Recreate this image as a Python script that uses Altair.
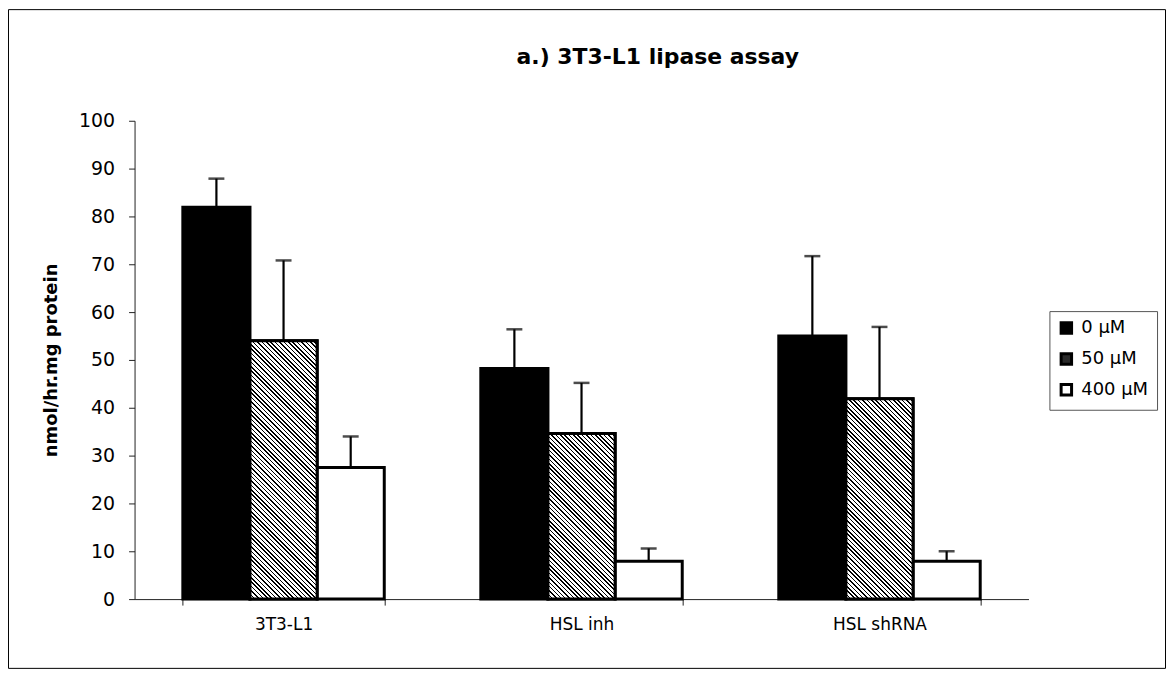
import altair as alt
import pandas as pd

groups = ["3T3-L1", "HSL inh", "HSL shRNA"]
concs = ["0 µM", "50 µM", "400 µM"]
mean_0 = [81.9, 48.2, 55.0]
mean_50 = [54.0, 34.6, 41.9]
mean_400 = [27.5, 7.9, 7.9]
upper_0 = [87.9, 56.4, 71.7]
upper_50 = [70.8, 45.2, 56.9]
upper_400 = [34.0, 10.6, 10.0]
y_ticks = list(range(0, 101, 10))
title_text = "a.) 3T3-L1 lipase assay"
y_title = "nmol/hr.mg protein"

rows = []
for c, means, ups in [(concs[0], mean_0, upper_0), (concs[1], mean_50, upper_50), (concs[2], mean_400, upper_400)]:
    for g, m, u in zip(groups, means, ups):
        rows.append({"group": g, "conc": c, "mean": m, "upper": u})
df = pd.DataFrame(rows)

W_PLOT, H_PLOT = 897, 480
PAD_IN, PAD_OUT = 0.324, 0.162
FONT = "DejaVu Sans"

x_enc = alt.X("group:N", sort=groups, title=None,
              scale=alt.Scale(paddingInner=PAD_IN, paddingOuter=PAD_OUT),
              axis=alt.Axis(labelAngle=0, tickBand="extent", labelFontSize=17, labelFont=FONT,
                            labelColor="black", labelPadding=12, tickSize=6, tickColor="#222",
                            domainColor="#222", domainWidth=1))
xo_enc = alt.XOffset("conc:N", sort=concs, scale=alt.Scale(domain=concs, paddingInner=0, paddingOuter=0))
y_scale = alt.Scale(domain=[0, 100], nice=False)

base = alt.Chart(df)

bars = base.mark_bar(stroke="black", strokeWidth=3, strokeJoin="miter").encode(
    x=x_enc, xOffset=xo_enc,
    y=alt.Y("mean:Q", stack=None, scale=y_scale, title=y_title,
            axis=alt.Axis(values=y_ticks, grid=False, labelFontSize=19, labelFont=FONT, labelColor="black",
                          labelPadding=14, tickSize=6, tickColor="#222", domainColor="#222",
                          titleFont=FONT, titleFontSize=18, titleFontWeight="bold", titleColor="black",
                          titlePadding=18)),
    fill=alt.Fill("conc:N", sort=concs,
                  scale=alt.Scale(domain=concs, range=["black", "#2a2a2a", "white"]),
                  legend=alt.Legend(title=None, orient="none", legendX=918, legendY=191,
                                    symbolType="square", symbolSize=110, symbolStrokeWidth=3,
                                    symbolStrokeColor="black", labelFont=FONT, labelFontSize=18,
                                    labelColor="black", strokeColor="#555", fillColor="white",
                                    padding=8, rowPadding=7, labelOffset=6)),
)

# hatched fill for 50 µM bars (diagonal stripes via a striped linear gradient)
bar_w = W_PLOT / (3 - PAD_IN + 2 * PAD_OUT) * (1 - PAD_IN) / 3
pitch, frac = 3.1, 0.36
hatch_layers = []
for g, m in zip(groups, mean_50):
    h = m * H_PLOT / 100.0
    k = h / bar_w
    vx = (1 + k) / (1 + k * k)
    vy = -k * vx
    n = max(1, int(round((bar_w + h) / 2 ** 0.5 / pitch)))
    stops = []
    for i in range(n):
        a, b, e = i / n, (i + frac) / n, (i + 1) / n
        stops += [{"offset": a, "color": "black"}, {"offset": b, "color": "black"},
                  {"offset": b, "color": "white"}, {"offset": e, "color": "white"}]
    grad = {"gradient": "linear", "x1": 0, "y1": 1, "x2": vx, "y2": 1 + vy, "stops": stops}
    layer = base.transform_filter(
        (alt.datum.group == g) & (alt.datum.conc == concs[1])
    ).mark_bar(fill=grad, stroke="black", strokeWidth=3).encode(
        x=x_enc, xOffset=xo_enc, y=alt.Y("mean:Q", stack=None, scale=y_scale)
    )
    hatch_layers.append(layer)

err_rule = base.mark_rule(color="black", strokeWidth=2.2).encode(
    x=x_enc, xOffset=xo_enc, y=alt.Y("mean:Q", scale=y_scale), y2="upper:Q"
)
err_cap = base.mark_tick(color="black", size=16, thickness=2.5).encode(
    x=x_enc, xOffset=xo_enc, y=alt.Y("upper:Q", scale=y_scale)
)

one = alt.Chart(pd.DataFrame({"t": [title_text]}))
title = one.mark_text(font=FONT, fontSize=22, fontWeight="bold", align="center",
                      baseline="alphabetic", color="black").encode(
    text="t:N", x=alt.value(525), y=alt.value(-57)
)
frame = one.mark_rect(filled=False, stroke="black", strokeWidth=1).encode(
    x=alt.value(-126.5), x2=alt.value(1034.5), y=alt.value(-111.5), y2=alt.value(549.5)
)

chart = alt.layer(bars, *hatch_layers, err_rule, err_cap, title, frame).properties(
    width=W_PLOT, height=H_PLOT,
    autosize=alt.AutoSizeParams(type="none"),
    padding={"left": 127, "top": 112, "right": 140, "bottom": 72},
    background="white",
).configure_view(stroke=None)

chart.save("out.html", embed_options={"renderer": "svg", "actions": False})
